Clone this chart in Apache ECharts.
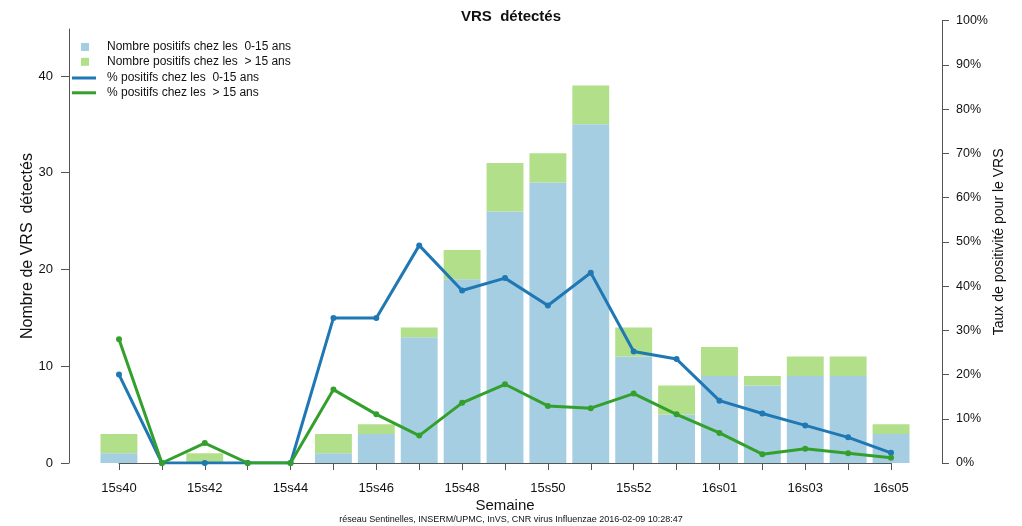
<!DOCTYPE html>
<html>
<head>
<meta charset="utf-8">
<script src="https://cdn.jsdelivr.net/npm/echarts@6/dist/echarts.min.js"></script>
<style>html,body{margin:0;padding:0;background:#fff}#c{width:1022px;height:526px}</style>
</head>
<body>
<div id="c"></div>
<script>
var weeks = ['15s40','15s41','15s42','15s43','15s44','15s45','15s46','15s47','15s48','15s49','15s50','15s51','15s52','15s53','16s01','16s02','16s03','16s04','16s05'];
var countYoung = [1,0,0,0,0,1,3,13,19,26,29,35,11,5,9,8,9,9,3];
var countOld   = [2,0,1,0,0,2,1,1,3,5,3,4,3,3,3,1,2,2,1];
var pctYoung = [20,0,0,0,0,32.8,32.8,49.2,39,41.8,35.6,43,25.2,23.5,14.1,11.2,8.5,5.8,2.3];
var pctOld   = [28,0,4.5,0,0,16.6,11,6.2,13.6,17.8,12.9,12.4,15.7,11,6.8,2,3.2,2.2,1.2];
var countTicks = [0,10,20,30,40];
var pctTicks = [0,10,20,30,40,50,60,70,80,90,100];

var F = 'Liberation Sans, Arial, Helvetica, sans-serif';
var axisCol = '#555';
var chart = echarts.init(document.getElementById('c'), null, {renderer:'canvas'});
chart.setOption({
  animation: false,
  textStyle: {fontFamily: F},
  title: [
    {text: 'VRS  détectés', left: 'center', top: 4, textStyle: {fontFamily: F, fontSize: 15, fontWeight: 'bold', color: '#111'}},
    {text: 'réseau Sentinelles, INSERM/UPMC, InVS, CNR virus Influenzae 2016-02-09 10:28:47', left: 'center', top: 510, textStyle: {fontFamily: F, fontSize: 9, fontWeight: 'normal', color: '#111'}}
  ],
  legend: [
    {orient: 'vertical', left: 81, top: 40, padding: 0, itemWidth: 8, itemHeight: 8, itemGap: 0.8, icon: 'rect',
     data: ['Nombre positifs chez les  0-15 ans', 'Nombre positifs chez les  > 15 ans'],
     textStyle: {fontFamily: F, fontSize: 12, color: '#111', lineHeight: 14, padding: [0,0,0,13]}},
    {orient: 'vertical', left: 72, top: 71, padding: 0, itemWidth: 24, itemHeight: 3, itemGap: 0.8,
     data: [{name: '% positifs chez les  0-15 ans', icon: 'rect'}, {name: '% positifs chez les  > 15 ans', icon: 'rect'}],
     textStyle: {fontFamily: F, fontSize: 12, color: '#111', lineHeight: 14, padding: [0,0,0,6]}}
  ],
  grid: [
    {left: 97.5, right: 109.5, top: 29, bottom: 63},
    {left: 119, right: 131, top: 20.7, bottom: 63}
  ],
  xAxis: [
    {type: 'category', gridIndex: 0, data: weeks, boundaryGap: true, show: false},
    {type: 'category', gridIndex: 1, data: weeks, boundaryGap: false,
     axisLine: {lineStyle: {color: axisCol, width: 1}},
     axisTick: {show: true, interval: 0, length: 7, lineStyle: {color: axisCol}},
     axisLabel: {interval: 1, margin: 19, fontSize: 13, color: '#111', fontFamily: F},
     name: 'Semaine', nameLocation: 'middle', nameGap: 35, nameMoveOverlap: false,
     nameTextStyle: {fontSize: 15, color: '#111', fontFamily: F}}
  ],
  yAxis: [
    {type: 'value', gridIndex: 0, min: 0, max: 44.85, offset: 28.5, position: 'left',
     axisLine: {show: true, lineStyle: {color: axisCol, width: 1}},
     axisTick: {show: true, length: 8, customValues: countTicks, lineStyle: {color: axisCol}},
     axisLabel: {customValues: countTicks, margin: 16, fontSize: 13, color: '#111', fontFamily: F},
     splitLine: {show: false},
     name: 'Nombre de VRS  détectés', nameLocation: 'middle', nameRotate: 90, nameGap: 33, nameMoveOverlap: false,
     nameTextStyle: {fontSize: 16, color: '#111', fontFamily: F}},
    {type: 'value', gridIndex: 1, min: 0, max: 100, interval: 10, offset: 51, position: 'right',
     axisLine: {show: true, lineStyle: {color: axisCol, width: 1}},
     axisTick: {show: true, length: 7, customValues: pctTicks, lineStyle: {color: axisCol}},
     axisLabel: {customValues: pctTicks, formatter: '{value}%', margin: 14, fontSize: 12.5, color: '#111', fontFamily: F},
     splitLine: {show: false},
     name: 'Taux de positivité pour le VRS', nameLocation: 'middle', nameRotate: 90, nameGap: 50, nameMoveOverlap: false,
     nameTextStyle: {fontSize: 14, color: '#111', fontFamily: F}}
  ],
  series: [
    {name: 'Nombre positifs chez les  0-15 ans', type: 'bar', stack: 'n', xAxisIndex: 0, yAxisIndex: 0,
     data: countYoung, barCategoryGap: '14%', itemStyle: {color: '#A6CEE3'}},
    {name: 'Nombre positifs chez les  > 15 ans', type: 'bar', stack: 'n', xAxisIndex: 0, yAxisIndex: 0,
     data: countOld, barCategoryGap: '14%', itemStyle: {color: '#B2DF8A'}},
    {name: '% positifs chez les  0-15 ans', type: 'line', xAxisIndex: 1, yAxisIndex: 1, data: pctYoung,
     symbol: 'circle', symbolSize: 6, lineStyle: {width: 3, color: '#1F78B4'}, itemStyle: {color: '#1F78B4'}},
    {name: '% positifs chez les  > 15 ans', type: 'line', xAxisIndex: 1, yAxisIndex: 1, data: pctOld,
     symbol: 'circle', symbolSize: 6, lineStyle: {width: 3, color: '#33A02C'}, itemStyle: {color: '#33A02C'}}
  ]
});
</script>
</body>
</html>
